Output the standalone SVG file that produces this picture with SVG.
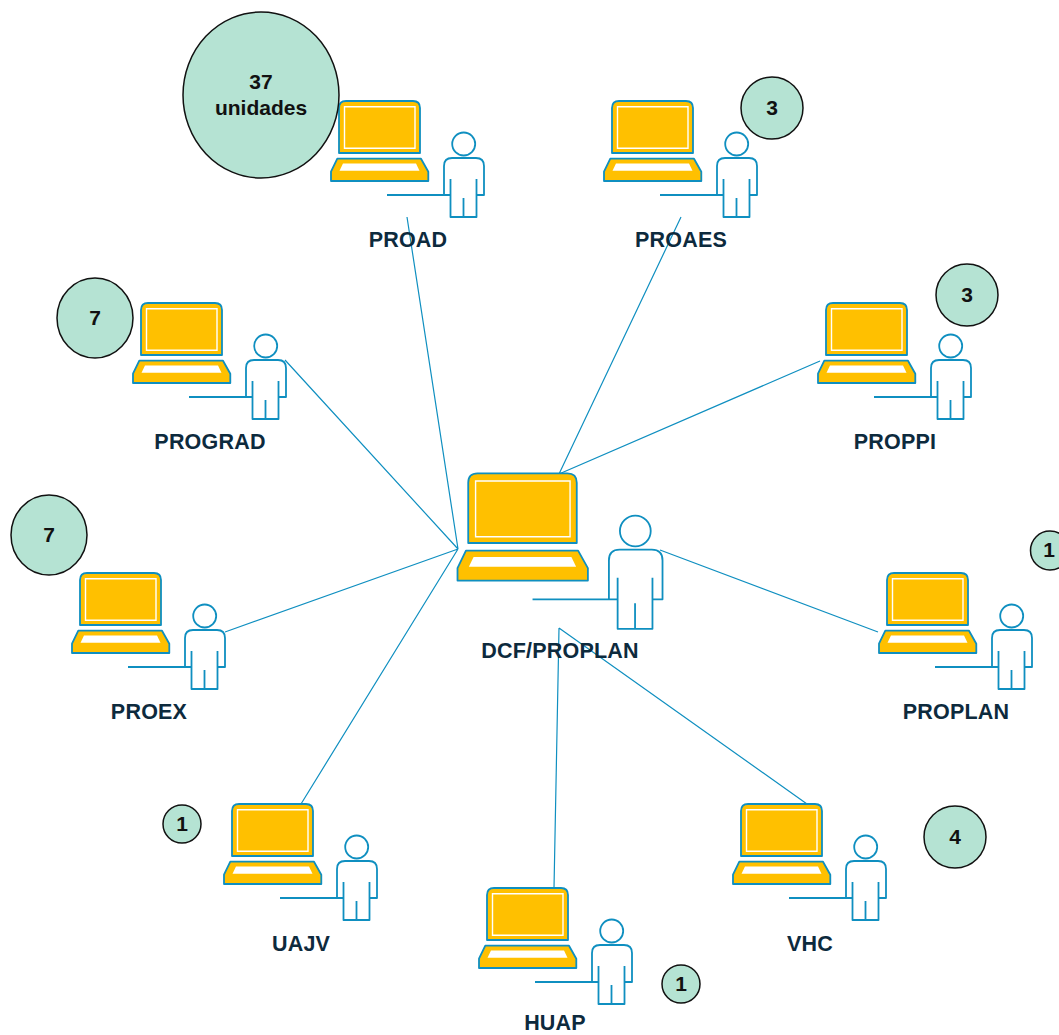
<svg xmlns="http://www.w3.org/2000/svg" xmlns:xlink="http://www.w3.org/1999/xlink" width="1059" height="1035" viewBox="0 0 1059 1035">
<style>
.ln{fill:none;stroke:#0f8fc0;stroke-width:1.2}
.st{stroke:#0f8fc0;stroke-width:1.8;stroke-linejoin:round;vector-effect:non-scaling-stroke}
.y{fill:#ffc000}
.w{fill:none;stroke:#fff;stroke-width:1.4;vector-effect:non-scaling-stroke}
.wf{fill:#fff}
.p{fill:none}
.c{fill:#b5e3d3;stroke:#111;stroke-width:1.5}
.l{font:bold 21.5px "Liberation Sans",Arial,sans-serif;fill:#0d2a3d;text-anchor:middle;letter-spacing:.2px}
.n{font:bold 21px "Liberation Sans",Arial,sans-serif;fill:#111;text-anchor:middle}
</style>
<defs>
<g id="station">
<path class="y st" d="M8 53V8Q8 1 15 1H82Q89 1 89 8V53Z"/>
<rect class="w" x="13.5" y="6.7" width="70.5" height="41.6"/>
<path class="y st" d="M6.3 58.7H90L97.3 71.7V81H0V71.7Z"/>
<path class="wf" d="M12 63.5H85L88.5 70.7H8.5Z"/>
<circle class="p st" cx="132.7" cy="44" r="11.5"/>
<path class="p st" d="M56 95H113V66Q113 58 121 58H145Q153 58 153 66V95H145.5M119.5 79V117H145.5V79M132.5 98V117M119.5 95H113"/>
</g>
</defs>
<g id="connectors">
<path class="ln" d="M407 217L458 549M285 360L458 549M225 632L458 549M301 804L458 549M681 217L559 474M820 361L559 474M878 632L660 550M807 804L559 628M554 888L559 628"/>
</g>
<g id="node-proad"><use xlink:href="#station" href="#station" transform="translate(331 100)"/><text class="l" x="408" y="247">PROAD</text></g>
<g id="node-proaes"><use xlink:href="#station" href="#station" transform="translate(604 100)"/><text class="l" x="681" y="247">PROAES</text></g>
<g id="node-prograd"><use xlink:href="#station" href="#station" transform="translate(133 302)"/><text class="l" x="210" y="449">PROGRAD</text></g>
<g id="node-proppi"><use xlink:href="#station" href="#station" transform="translate(818 302)"/><text class="l" x="895" y="449">PROPPI</text></g>
<g id="node-proex"><use xlink:href="#station" href="#station" transform="translate(72 572)"/><text class="l" x="149" y="719">PROEX</text></g>
<g id="node-proplan"><use xlink:href="#station" href="#station" transform="translate(879 572)"/><text class="l" x="956" y="719">PROPLAN</text></g>
<g id="node-uajv"><use xlink:href="#station" href="#station" transform="translate(224 803)"/><text class="l" x="301" y="951">UAJV</text></g>
<g id="node-vhc"><use xlink:href="#station" href="#station" transform="translate(733 803)"/><text class="l" x="810" y="951">VHC</text></g>
<g id="node-huap"><use xlink:href="#station" href="#station" transform="translate(479 887)"/><text class="l" x="555" y="1030">HUAP</text></g>
<g id="node-dcf"><use xlink:href="#station" href="#station" transform="translate(457.5 472) scale(1.34)"/><text class="l" x="560" y="658">DCF/PROPLAN</text></g>
<g id="badge-37"><ellipse class="c" cx="261" cy="95" rx="78" ry="83"/><text class="n" x="261" y="89">37</text><text class="n" x="261" y="115">unidades</text></g>
<g id="badge-proaes"><circle class="c" cx="772" cy="108" r="31"/><text class="n" x="772" y="115">3</text></g>
<g id="badge-proppi"><circle class="c" cx="967" cy="295" r="31"/><text class="n" x="967" y="302">3</text></g>
<g id="badge-prograd"><ellipse class="c" cx="95" cy="318" rx="38" ry="40"/><text class="n" x="95" y="325">7</text></g>
<g id="badge-proex"><ellipse class="c" cx="49" cy="535" rx="38" ry="40"/><text class="n" x="49" y="542">7</text></g>
<g id="badge-proplan"><circle class="c" cx="1050" cy="550.5" r="19.5"/><text class="n" x="1049" y="557">1</text></g>
<g id="badge-uajv"><circle class="c" cx="182" cy="824" r="19"/><text class="n" x="182" y="831">1</text></g>
<g id="badge-vhc"><circle class="c" cx="955" cy="837" r="31"/><text class="n" x="955" y="844">4</text></g>
<g id="badge-huap"><circle class="c" cx="681" cy="984" r="19"/><text class="n" x="681" y="991">1</text></g>
</svg>
